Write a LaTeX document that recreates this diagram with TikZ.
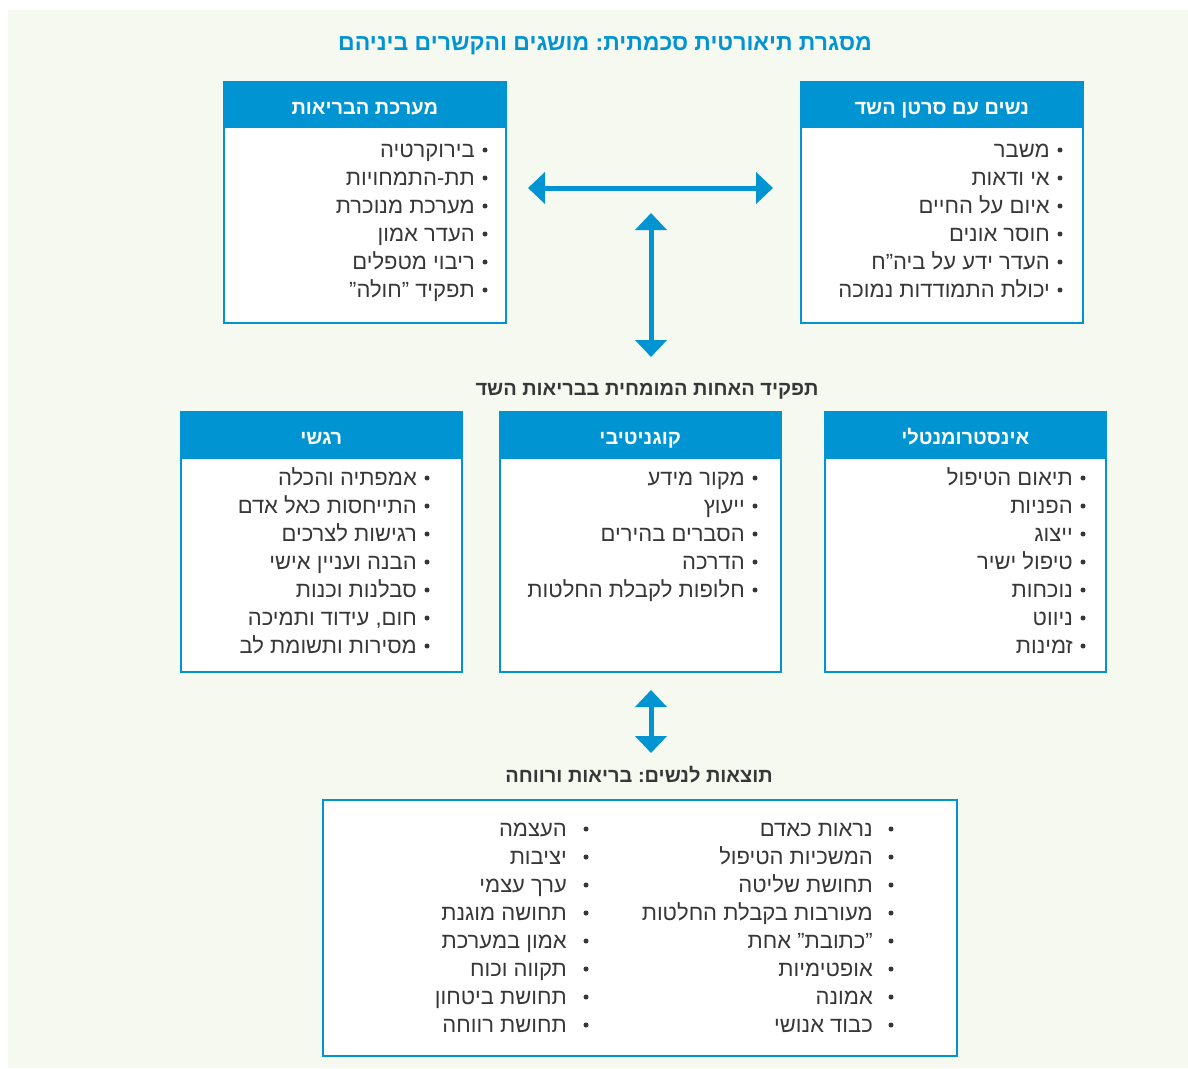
\documentclass[tikz,border=0pt]{standalone}
\usepackage{fontspec}
\setmainfont{Liberation Sans}
\newfontfamily\hebfont[Script=Hebrew]{Liberation Sans}
\TeXXeTstate=1
\frenchspacing
\usetikzlibrary{arrows.meta}
\definecolor{schemablue}{RGB}{0,148,210}
\definecolor{paper}{RGB}{245,249,240}
\definecolor{ink}{RGB}{55,55,55}
\newcommand{\heb}[1]{\beginR #1\endR}
\tikzset{box/.style={draw=schemablue, line width=1.5pt, fill=white, anchor=north west, inner sep=0pt},
boxhead/.style={fill=schemablue, text=white, anchor=north, inner sep=0pt, text height=19pt, text depth=0pt, font=\hebfont\bfseries\fontsize{20}{22}\selectfont},
entry/.style={anchor=base east, inner sep=0pt, text=ink, font=\hebfont\fontsize{22}{24}\selectfont},
dot/.style={circle, fill=ink, inner sep=0pt, minimum size=5pt},
caption/.style={anchor=base, inner sep=0pt, text=ink, font=\hebfont\bfseries\fontsize{20}{22}\selectfont},
both/.style={draw=schemablue, line width=5pt, {Triangle[length=17pt,width=31pt]}-{Triangle[length=17pt,width=31pt]}}}

\begin{document}
\begin{tikzpicture}[x=1pt,y=-1pt]

    \useasboundingbox[fill=white] (0,0) rectangle (1188,1068);
    \fill[paper] (8,10) rectangle (1188,1068);

    \node[caption, text=schemablue, font=\hebfont\bfseries\fontsize{23}{26}\selectfont] (title) at (605,50) {\heb{מסגרת תיאורטית סכמתית: מושגים והקשרים ביניהם}};

    % top row
    \node[box, minimum width=282pt, minimum height=241pt] (hs) at (223,81) {};
    \node[box, minimum width=282pt, minimum height=241pt] (ws) at (800,81) {};
    \node[boxhead, minimum width=282pt, minimum height=47pt] (hs-head) at (hs.north) {\heb{מערכת הבריאות}};
    \node[boxhead, minimum width=282pt, minimum height=47pt] (ws-head) at (ws.north) {\heb{נשים עם סרטן השד}};

    \foreach \t [count=\i] in {בירוקרטיה,תת-התמחויות,מערכת מנוכרת,העדר אמון,ריבוי מטפלים,{תפקיד ”חולה”}}{
    \node[dot] (hs-b\i) at (485,122+28*\i) {};
    \node[entry] (hs-\i) at (475,129+28*\i) {\heb{\t}};
    }
    \foreach \t [count=\i] in {משבר,אי ודאות,איום על החיים,חוסר אונים,העדר ידע על ביה”ח,יכולת התמודדות נמוכה}{
    \node[dot] (ws-b\i) at (1060,122+28*\i) {};
    \node[entry] (ws-\i) at (1050,129+28*\i) {\heb{\t}};
    }

    \coordinate (h1) at (528,188);
    \coordinate (h2) at (773,188);
    \coordinate (v1) at (651,213);
    \coordinate (v2) at (651,357);
    \draw[both] (h1) -- (h2);
    \draw[both] (v1) -- (v2);

    \node[caption] (role) at (647,395) {\heb{תפקיד האחות המומחית בבריאות השד}};

    % middle row
    \node[box, minimum width=281pt, minimum height=260pt] (emo) at (180,411) {};
    \node[box, minimum width=281pt, minimum height=260pt] (cog) at (499,411) {};
    \node[box, minimum width=281pt, minimum height=260pt] (ins) at (824,411) {};
    \node[boxhead, minimum width=281pt, minimum height=48pt] (emo-head) at (emo.north) {\heb{רגשי}};
    \node[boxhead, minimum width=281pt, minimum height=48pt] (cog-head) at (cog.north) {\heb{קוגניטיבי}};
    \node[boxhead, minimum width=281pt, minimum height=48pt] (ins-head) at (ins.north) {\heb{אינסטרומנטלי}};

    \foreach \t [count=\i] in {אמפתיה והכלה,התייחסות כאל אדם,רגישות לצרכים,הבנה ועניין אישי,סבלנות וכנות,{חום, עידוד ותמיכה},מסירות ותשומת לב}{
    \node[dot] (emo-b\i) at (427,450+28*\i) {};
    \node[entry] (emo-\i) at (417,457+28*\i) {\heb{\t}};
    }
    \foreach \t [count=\i] in {מקור מידע,ייעוץ,הסברים בהירים,הדרכה,חלופות לקבלת החלטות}{
    \node[dot] (cog-b\i) at (755,450+28*\i) {};
    \node[entry] (cog-\i) at (745,457+28*\i) {\heb{\t}};
    }
    \foreach \t [count=\i] in {תיאום הטיפול,הפניות,ייצוג,טיפול ישיר,נוכחות,ניווט,זמינות}{
    \node[dot] (ins-b\i) at (1083,450+28*\i) {};
    \node[entry] (ins-\i) at (1073,457+28*\i) {\heb{\t}};
    }

    \coordinate (v3) at (651,690);
    \coordinate (v4) at (651,753);
    \draw[both] (v3) -- (v4);

    \node[caption] (goal) at (639,782) {\heb{תוצאות לנשים: בריאות ורווחה}};

    % outcomes
    \node[box, minimum width=634pt, minimum height=256pt] (out) at (322,799) {};
    \foreach \t [count=\i] in {נראות כאדם,המשכיות הטיפול,תחושת שליטה,מעורבות בקבלת החלטות,{”כתובת” אחת},אופטימיות,אמונה,כבוד אנושי}{
    \node[dot] (outr-b\i) at (891,801+28*\i) {};
    \node[entry] (outr-\i) at (873,808+28*\i) {\heb{\t}};
    }
    \foreach \t [count=\i] in {העצמה,יציבות,ערך עצמי,תחושה מוגנת,אמון במערכת,תקווה וכוח,תחושת ביטחון,תחושת רווחה}{
    \node[dot] (outl-b\i) at (586,801+28*\i) {};
    \node[entry] (outl-\i) at (567,808+28*\i) {\heb{\t}};
    }

\end{tikzpicture}
\end{document}
